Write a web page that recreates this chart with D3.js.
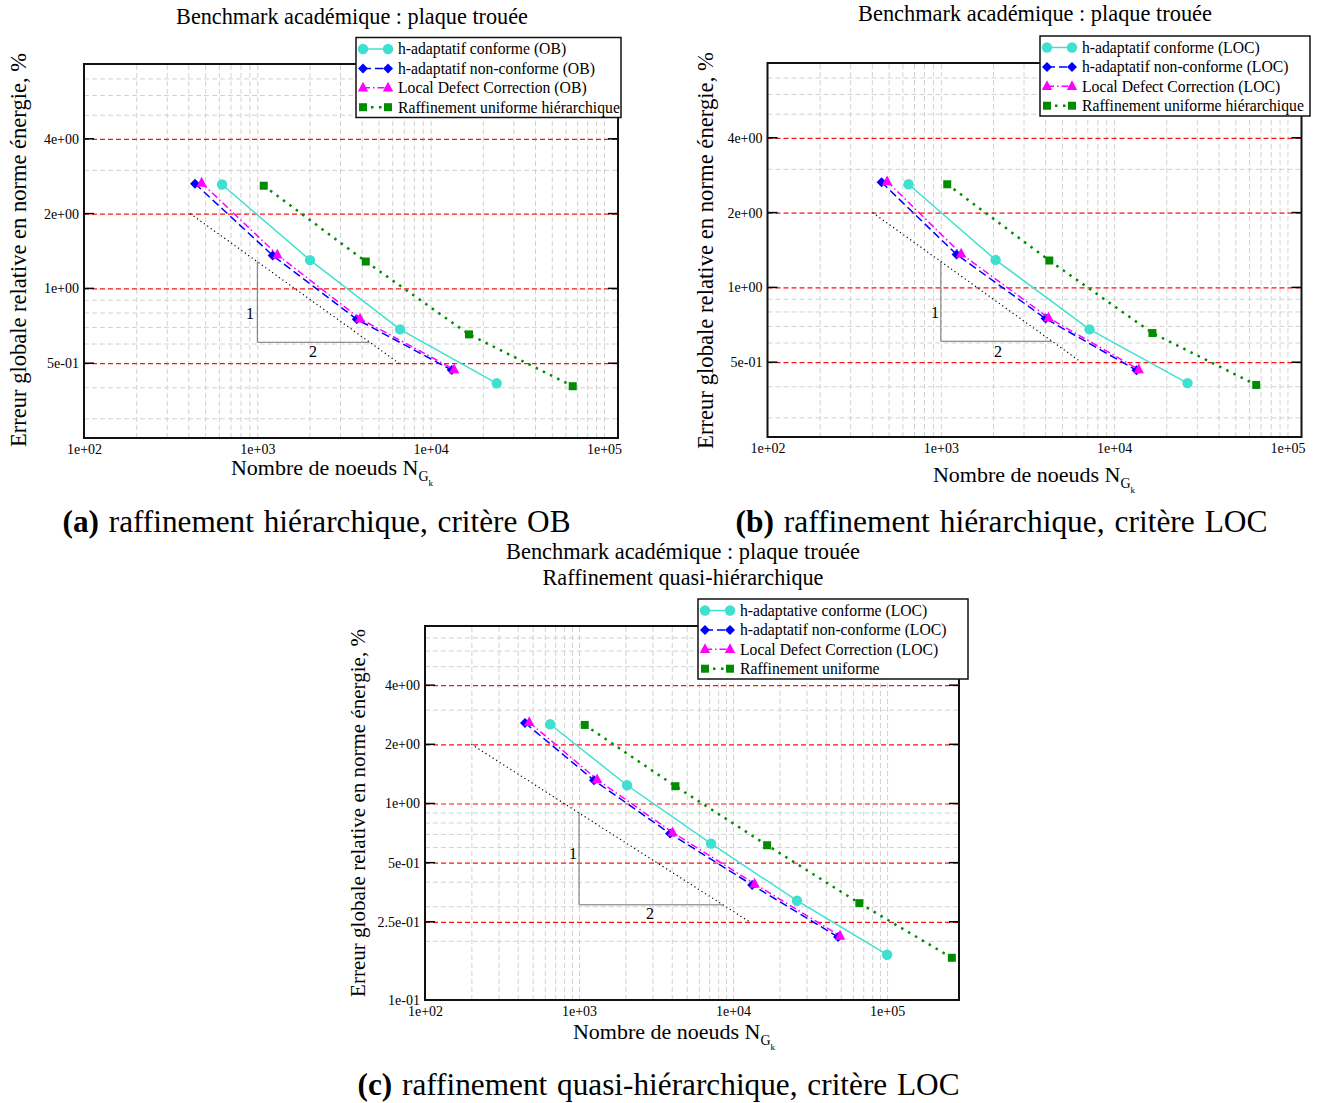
<!DOCTYPE html>
<html><head><meta charset="utf-8">
<script src="https://cdnjs.cloudflare.com/ajax/libs/d3/7.8.5/d3.min.js"></script>
<style>
body{margin:0;background:#fff}
svg{display:block}
text{font-family:"Liberation Serif","Times New Roman",serif;fill:#000}
</style>
</head><body>
<svg id="fig" width="1318" height="1103"></svg>
<script>
// ---------------- data ----------------
const xTickValues = [1e2, 1e3, 1e4, 1e5];
const xTickLabels = ["1e+02", "1e+03", "1e+04", "1e+05"];
const yTickValuesAB = [4, 2, 1, 0.5];
const yTickLabelsAB = ["4e+00", "2e+00", "1e+00", "5e-01"];
const yTickValuesC = [4, 2, 1, 0.5, 0.25, 0.1];
const yTickLabelsC = ["4e+00", "2e+00", "1e+00", "5e-01", "2.5e-01", "1e-01"];

const namesA = ["h-adaptatif conforme (OB)", "h-adaptatif non-conforme (OB)", "Local Defect Correction (OB)", "Raffinement uniforme hiérarchique"];
const namesB = ["h-adaptatif conforme (LOC)", "h-adaptatif non-conforme (LOC)", "Local Defect Correction (LOC)", "Raffinement uniforme hiérarchique"];
const namesC = ["h-adaptative conforme (LOC)", "h-adaptatif non-conforme (LOC)", "Local Defect Correction (LOC)", "Raffinement uniforme"];

// panel (a) : critère OB
const aConfN = [626, 2014, 6660, 24060];
const aConfE = [2.62, 1.30, 0.684, 0.415];
const aNonConfN = [437, 1227, 3746, 13240];
const aNonConfE = [2.64, 1.357, 0.751, 0.469];
const aLdcN = [477, 1305, 3914, 13650];
const aLdcE = [2.66, 1.365, 0.755, 0.472];
const aUnifN = [1089, 4225, 16641, 66049];
const aUnifE = [2.59, 1.283, 0.653, 0.404];
const aRefN = [410, 6560];
const aRefE = [2, 0.5];

// panel (b) : critère LOC
const bConfN = [651, 2070, 7210, 26500];
const bConfE = [2.60, 1.29, 0.678, 0.412];
const bNonConfN = [455, 1233, 4020, 13460];
const bNonConfE = [2.65, 1.357, 0.749, 0.464];
const bLdcN = [490, 1310, 4180, 13860];
const bLdcE = [2.67, 1.365, 0.755, 0.467];
const bUnifN = [1089, 4225, 16641, 66049];
const bUnifE = [2.60, 1.283, 0.655, 0.405];
const bRefN = [404, 6460];
const bRefE = [2, 0.5];

// panel (c) : quasi-hiérarchique, critère LOC
const cConfN = [649, 2050, 7200, 26000, 100000];
const cConfE = [2.53, 1.238, 0.625, 0.32, 0.170];
const cNonConfN = [446, 1250, 3900, 13300, 48100];
const cNonConfE = [2.57, 1.312, 0.703, 0.385, 0.209];
const cLdcN = [475, 1310, 4050, 13800, 49500];
const cLdcE = [2.59, 1.325, 0.712, 0.39, 0.212];
const cUnifN = [1089, 4225, 16641, 66049, 263169];
const cUnifE = [2.51, 1.224, 0.613, 0.311, 0.164];
const cRefN = [200, 12800];
const cRefE = [2, 0.25];

// ---------------- drawing ----------------
const svg = d3.select("#fig");
const W = 534, H = 374;

const styles = [
  {color: "#40e0d0", dash: null, width: 1.5, marker: "circle"},
  {color: "#0000ff", dash: "8,4", width: 1.5, marker: "diamond"},
  {color: "#ff00ff", dash: "7,3,1.5,3", width: 1.5, marker: "triangle"},
  {color: "#008b00", dash: "2.5,5.5", width: 2.5, marker: "square"}
];

function markerPath(type) {
  if (type === "circle") return "M5.2,0A5.2,5.2 0 1,1 -5.2,0A5.2,5.2 0 1,1 5.2,0Z";
  if (type === "diamond") return "M0,-5L5,0L0,5L-5,0Z";
  if (type === "triangle") return "M0,-6L5.2,3.8L-5.2,3.8Z";
  return "M-4,-4L4,-4L4,4L-4,4Z";
}

function fitWidth(sel, target) {
  const len = sel.node().getComputedTextLength();
  const fs = parseFloat(sel.attr("font-size"));
  sel.attr("font-size", (fs * target / len).toFixed(2));
}

function drawPanel(p) {
  const g = svg.append("g");
  const x = d3.scaleLog().domain([100, p.xMax]).range([p.left, p.left + W]);
  const y = d3.scaleLog().domain([p.yMin, 8]).range([p.top + H, p.top]);

  // vertical grid (log minor + major)
  const xGrid = [];
  for (let e = 2; e <= 4; e++) for (let k = 1; k <= 9; k++) {
    const v = k * Math.pow(10, e);
    if (v > 100 && v < p.xMax) xGrid.push(v);
  }
  if (1e5 < p.xMax) xGrid.push(1e5);
  g.append("g").attr("transform", `translate(0,${p.top + H})`)
    .call(d3.axisBottom(x).tickValues(xGrid).tickSize(-H).tickFormat(""))
    .call(s => { s.select(".domain").remove();
      s.selectAll("line").attr("stroke", "#d2d2d2").attr("stroke-width", 1).attr("stroke-dasharray", "5,3"); });

  // horizontal minor grid
  const yMinor = [];
  for (let e = -1; e <= 0; e++) for (let k = 1; k <= 9; k++) {
    const v = +(k * Math.pow(10, e)).toFixed(4);
    if (v > p.yMin && v < 8 && !p.yTicks.includes(v)) yMinor.push(v);
  }
  g.append("g").attr("transform", `translate(${p.left},0)`)
    .call(d3.axisLeft(y).tickValues(yMinor).tickSize(-W).tickFormat(""))
    .call(s => { s.select(".domain").remove();
      s.selectAll("line").attr("stroke", "#d2d2d2").attr("stroke-width", 1).attr("stroke-dasharray", "5,3"); });

  // horizontal major grid (red dashed)
  const yMajor = p.yTicks.filter(v => v > p.yMin && v < 8);
  g.append("g").attr("transform", `translate(${p.left},0)`)
    .call(d3.axisLeft(y).tickValues(yMajor).tickSize(-W).tickFormat(""))
    .call(s => { s.select(".domain").remove();
      s.selectAll("line").attr("stroke", "#ff1010").attr("stroke-width", 1.2).attr("stroke-dasharray", "5,3"); });

  // black major ticks on left and right
  g.append("g").selectAll("line.tl").data(yMajor).join("line")
    .attr("x1", p.left).attr("x2", p.left + 10).attr("y1", d => y(d)).attr("y2", d => y(d))
    .attr("stroke", "#000").attr("stroke-width", 1.5);
  g.append("g").selectAll("line.tr").data(yMajor).join("line")
    .attr("x1", p.left + W - 10).attr("x2", p.left + W).attr("y1", d => y(d)).attr("y2", d => y(d))
    .attr("stroke", "#000").attr("stroke-width", 1.5);

  // tick labels
  g.append("g").attr("transform", `translate(0,${p.top + H})`)
    .call(d3.axisBottom(x).tickValues(xTickValues).tickFormat((d, i) => xTickLabels[i]).tickSize(0).tickPadding(6))
    .call(s => { s.select(".domain").remove();
      s.selectAll("text").attr("font-family", "Liberation Serif").attr("font-size", 14).attr("fill", "#000"); });
  g.append("g").attr("transform", `translate(${p.left},0)`)
    .call(d3.axisLeft(y).tickValues(p.yTicks).tickFormat((d, i) => p.yLabels[i]).tickSize(0).tickPadding(5))
    .call(s => { s.select(".domain").remove();
      s.selectAll("text").attr("font-family", "Liberation Serif").attr("font-size", 14).attr("fill", "#000"); });

  // reference slope line (dotted) and triangle
  const refPts = p.refN.map((n, i) => [n, p.refE[i]]);
  const slope = Math.log(p.refE[1] / p.refE[0]) / Math.log(p.refN[1] / p.refN[0]);
  const eAt = n => p.refE[0] * Math.pow(n / p.refN[0], slope);
  const nAt = e => p.refN[0] * Math.pow(e / p.refE[0], 1 / slope);
  const line = d3.line().x(d => x(d[0])).y(d => y(d[1]));
  g.append("path").attr("d", line(refPts)).attr("fill", "none")
    .attr("stroke", "#000").attr("stroke-width", 1.2).attr("stroke-dasharray", "1.2,3");
  const triPts = [[p.triN, eAt(p.triN)], [p.triN, p.triE], [nAt(p.triE), p.triE]];
  g.append("path").attr("d", line(triPts)).attr("fill", "none")
    .attr("stroke", "#707070").attr("stroke-width", 1);
  g.append("text").attr("x", x(p.lab1[0])).attr("y", y(p.lab1[1])).attr("dy", "0.35em")
    .attr("text-anchor", "middle").attr("font-size", 16).text("1");
  g.append("text").attr("x", x(p.lab2[0])).attr("y", y(p.lab2[1])).attr("dy", "0.35em")
    .attr("text-anchor", "middle").attr("font-size", 16).text("2");

  // series
  p.series.forEach((s, i) => {
    const st = styles[i];
    const pts = s[0].map((n, j) => [n, s[1][j]]);
    g.append("path").attr("d", line(pts)).attr("fill", "none")
      .attr("stroke", st.color).attr("stroke-width", st.width)
      .attr("stroke-dasharray", st.dash);
    g.append("g").selectAll("path").data(pts).join("path")
      .attr("transform", d => `translate(${x(d[0])},${y(d[1])})`)
      .attr("d", markerPath(st.marker)).attr("fill", st.color);
  });

  // frame
  g.append("rect").attr("x", p.left).attr("y", p.top).attr("width", W).attr("height", H)
    .attr("fill", "none").attr("stroke", "#111").attr("stroke-width", 2);

  // legend
  const lg = g.append("g");
  lg.append("rect").attr("x", p.legX).attr("y", p.legY).attr("width", p.legW).attr("height", 80)
    .attr("fill", "#fff").attr("stroke", "#111").attr("stroke-width", 1.5);
  p.names.forEach((name, i) => {
    const st = styles[i];
    const yy = p.legY + 11.5 + i * 19.4;
    const x0 = p.legX + 7, x1 = p.legX + 32;
    lg.append("line").attr("x1", x0).attr("x2", x1).attr("y1", yy).attr("y2", yy)
      .attr("stroke", st.color).attr("stroke-width", st.width).attr("stroke-dasharray", st.dash);
    [x0, x1].forEach(xx => lg.append("path").attr("transform", `translate(${xx},${yy})`)
      .attr("d", markerPath(st.marker)).attr("fill", st.color));
    lg.append("text").attr("x", p.legX + 42).attr("y", yy).attr("dy", "0.35em")
      .attr("font-size", 15.7).text(name);
  });

  // title(s)
  p.titles.forEach(t => {
    const tx = g.append("text").attr("x", t[0]).attr("y", t[1]).attr("text-anchor", "middle")
      .attr("font-size", 21).text(t[2]);
    fitWidth(tx, t[3]);
  });

  // x label
  const xl = g.append("text").attr("x", p.xLab[0]).attr("y", p.xLab[1]).attr("text-anchor", "middle")
    .attr("font-size", 22);
  xl.append("tspan").text("Nombre de noeuds N");
  xl.append("tspan").attr("font-size", 14).attr("dy", 6).text("G");
  xl.append("tspan").attr("font-size", 9).attr("dy", 5).text("k");

  // y label
  const yl = g.append("text").attr("transform", `translate(${p.yLab[0]},${p.yLab[1]}) rotate(-90)`)
    .attr("text-anchor", "middle").attr("font-size", 22).text("Erreur globale relative en norme énergie, %");
  fitWidth(yl, p.yLab[2]);
}

const panels = [
  {left: 84, top: 64, xMax: 1.205e5, yMin: 0.25, yTicks: yTickValuesAB, yLabels: yTickLabelsAB,
   series: [[aConfN, aConfE], [aNonConfN, aNonConfE], [aLdcN, aLdcE], [aUnifN, aUnifE]], names: namesA,
   refN: aRefN, refE: aRefE, triN: 1000, triE: 0.607, lab1: [908, 0.794], lab2: [2094, 0.558],
   legX: 356, legY: 37.5, legW: 265,
   titles: [[352, 24, "Benchmark académique : plaque trouée", 352]],
   xLab: [332, 475], yLab: [26, 250, 394]},
  {left: 767.5, top: 63, xMax: 1.205e5, yMin: 0.25, yTicks: yTickValuesAB, yLabels: yTickLabelsAB,
   series: [[bConfN, bConfE], [bNonConfN, bNonConfE], [bLdcN, bLdcE], [bUnifN, bUnifE]], names: namesB,
   refN: bRefN, refE: bRefE, triN: 1000, triE: 0.607, lab1: [927, 0.793], lab2: [2138, 0.553],
   legX: 1040, legY: 36, legW: 270,
   titles: [[1035, 21, "Benchmark académique : plaque trouée", 354]],
   xLab: [1034, 482], yLab: [713, 250.5, 397]},
  {left: 425, top: 626, xMax: 2.93e5, yMin: 0.1, yTicks: yTickValuesC, yLabels: yTickLabelsC,
   series: [[cConfN, cConfE], [cNonConfN, cNonConfE], [cLdcN, cLdcE], [cUnifN, cUnifE]], names: namesC,
   refN: cRefN, refE: cRefE, triN: 1000, triE: 0.305, lab1: [914, 0.557], lab2: [2890, 0.275],
   legX: 698, legY: 599, legW: 270,
   titles: [[683, 559, "Benchmark académique : plaque trouée", 354], [683, 585, "Raffinement quasi-hiérarchique", 281]],
   xLab: [674, 1039], yLab: [365, 813, 368]}
];
panels.forEach(drawPanel);

// captions
const captions = [
  [316.5, 532, "(a)", " raffinement hiérarchique, critère OB", 509],
  [1001.5, 532, "(b)", " raffinement hiérarchique, critère LOC", 533],
  [658.5, 1095, "(c)", " raffinement quasi-hiérarchique, critère LOC", 603]
];
captions.forEach(c => {
  const t = svg.append("text").attr("x", c[0]).attr("y", c[1]).attr("text-anchor", "middle")
    .attr("font-size", 28).attr("word-spacing", 2);
  t.append("tspan").attr("font-weight", "bold").text(c[2]);
  t.append("tspan").text(c[3]);
  fitWidth(t, c[4]);
});
</script>
</body></html>
